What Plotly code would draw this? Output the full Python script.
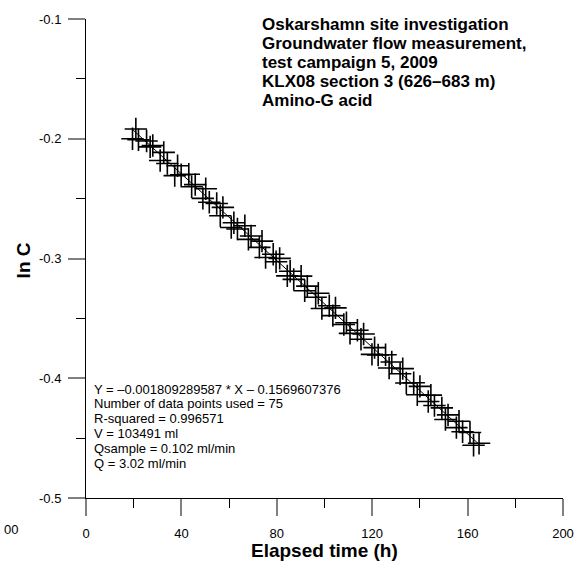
import plotly.graph_objects as go

# Elapsed time (h) and ln C of the dilution samples
elapsed_h = [
    19.5, 20.9, 22.0, 25.4, 26.9, 28.0, 31.1, 32.6, 34.1, 37.2,
    38.4, 39.9, 43.1, 44.3, 45.8, 49.0, 50.2, 51.7, 54.8, 56.3,
    57.4, 60.9, 62.0, 63.5, 66.6, 68.1, 69.2, 72.7, 73.8, 75.3,
    78.5, 79.7, 81.2, 84.4, 85.6, 87.1, 90.2, 91.7, 92.8, 96.3,
    97.4, 98.9, 102.0, 103.5, 104.6, 108.1, 109.2, 110.7, 113.8, 115.3,
    116.4, 119.9, 121.0, 122.5, 125.6, 127.1, 128.2, 131.7, 132.8, 134.3,
    137.4, 138.9, 140.0, 143.5, 144.6, 146.1, 149.2, 150.7, 151.8, 155.3,
    156.4, 157.9, 161.0, 162.5, 164.8,
]
ln_c = [
    -0.2000, -0.1918, -0.2008, -0.2019, -0.2068, -0.2056, -0.2182, -0.2114, -0.2207, -0.2308,
    -0.2226, -0.2300, -0.2297, -0.2401, -0.2383, -0.2498, -0.2418, -0.2530, -0.2541, -0.2643,
    -0.2573, -0.2741, -0.2701, -0.2754, -0.2727, -0.2840, -0.2812, -0.2907, -0.2855, -0.2992,
    -0.2965, -0.3027, -0.2999, -0.3145, -0.3106, -0.3174, -0.3147, -0.3269, -0.3231, -0.3324,
    -0.3290, -0.3417, -0.3395, -0.3477, -0.3412, -0.3551, -0.3537, -0.3625, -0.3599, -0.3674,
    -0.3631, -0.3801, -0.3744, -0.3806, -0.3804, -0.3914, -0.3864, -0.3963, -0.3920, -0.4040,
    -0.4038, -0.4138, -0.4068, -0.4194, -0.4141, -0.4228, -0.4247, -0.4344, -0.4306, -0.4412,
    -0.4359, -0.4447, -0.4453, -0.4560, -0.4543,
]

# Linear regression of ln C against time
slope = -0.001809289587
intercept = -0.1569607376
fit_x = [min(elapsed_h), max(elapsed_h)]
fit_y = [slope * x + intercept for x in fit_x]

title_lines = [
    "Oskarshamn site investigation",
    "Groundwater flow measurement,",
    "test campaign 5, 2009",
    "KLX08 section 3 (626–683 m)",
    "Amino-G acid",
]
stats_lines = [
    "Y = –0.001809289587 * X – 0.1569607376",
    "Number of data points used = 75",
    "R-squared = 0.996571",
    "V = 103491 ml",
    "Qsample = 0.102 ml/min",
    "Q = 3.02 ml/min",
]

x_ticks = [0, 40, 80, 120, 160, 200]
y_ticks = [-0.5, -0.4, -0.3, -0.2, -0.1]

FONT = "Arial, Liberation Sans, sans-serif"
W, H = 586, 567
L, R, T, B = 86, 16, 14, 69
PW, PH = W - L - R, H - T - B


def px_to_paper(px, py):
    return (px - L) / PW, (H - B - py) / PH


fig = go.Figure()
fig.add_trace(go.Scatter(
    x=fit_x, y=fit_y, mode="lines",
    line=dict(color="black", width=1), hoverinfo="skip", showlegend=False,
))
fig.add_trace(go.Scatter(
    x=elapsed_h, y=ln_c, mode="markers",
    marker=dict(symbol="cross-thin", size=16, line=dict(color="black", width=1.6)),
    showlegend=False,
))

axis_common = dict(
    showgrid=False, zeroline=False, showline=True, linecolor="black", linewidth=1,
    ticks="outside", ticklen=17, tickwidth=2, tickcolor="#808080",
    tickfont=dict(family=FONT, size=13, color="black"),
)
fig.update_xaxes(
    range=[0, 200], tickvals=x_ticks, ticktext=[str(v) for v in x_ticks],
    minor=dict(ticks="outside", ticklen=9, tickwidth=1, tickcolor="black", dtick=20, tick0=0),
    ticklabelstandoff=6, **axis_common,
)
fig.update_yaxes(
    range=[-0.5, -0.1], tickvals=y_ticks, ticktext=[f"{v:.1f}" for v in y_ticks],
    minor=dict(ticks="outside", ticklen=9, tickwidth=1, tickcolor="black", dtick=0.05, tick0=0),
    ticklabelstandoff=4, **axis_common,
)

annotations = []
for i, line in enumerate(title_lines):
    ax, ay = px_to_paper(263, 20 + 19 * i)
    annotations.append(dict(
        text=line, x=ax, y=ay, xref="paper", yref="paper", xanchor="left", yanchor="middle",
        showarrow=False, font=dict(family=FONT, size=17, color="black", weight="bold"),
    ))
for i, line in enumerate(stats_lines):
    ax, ay = px_to_paper(92, 388 + 15 * i)
    annotations.append(dict(
        text=line, x=ax, y=ay, xref="paper", yref="paper", xanchor="left", yanchor="middle",
        showarrow=False, font=dict(family=FONT, size=13, color="black"),
    ))

ax, ay = px_to_paper(328, 551)
annotations.append(dict(
    text="Elapsed time (h)", x=ax, y=ay, xref="paper", yref="paper",
    xanchor="center", yanchor="middle", showarrow=False,
    font=dict(family=FONT, size=19, color="black", weight="bold"),
))
ax, ay = px_to_paper(23, 258)
annotations.append(dict(
    text="ln C", x=ax, y=ay, xref="paper", yref="paper", textangle=-90,
    xanchor="center", yanchor="middle", showarrow=False,
    font=dict(family=FONT, size=19, color="black", weight="bold"),
))
# leftmost axis label fragment at the page edge
ax, ay = px_to_paper(1, 530)
annotations.append(dict(
    text="00", x=ax, y=ay, xref="paper", yref="paper",
    xanchor="left", yanchor="middle", showarrow=False,
    font=dict(family=FONT, size=13, color="black"),
))

fig.update_layout(
    width=W, height=H, autosize=False,
    margin=dict(l=L, r=R, t=T, b=B, pad=0),
    paper_bgcolor="white", plot_bgcolor="white",
    annotations=annotations,
    font=dict(family=FONT),
)

fig.write_html("out.html", config={"displayModeBar": False, "responsive": False})
